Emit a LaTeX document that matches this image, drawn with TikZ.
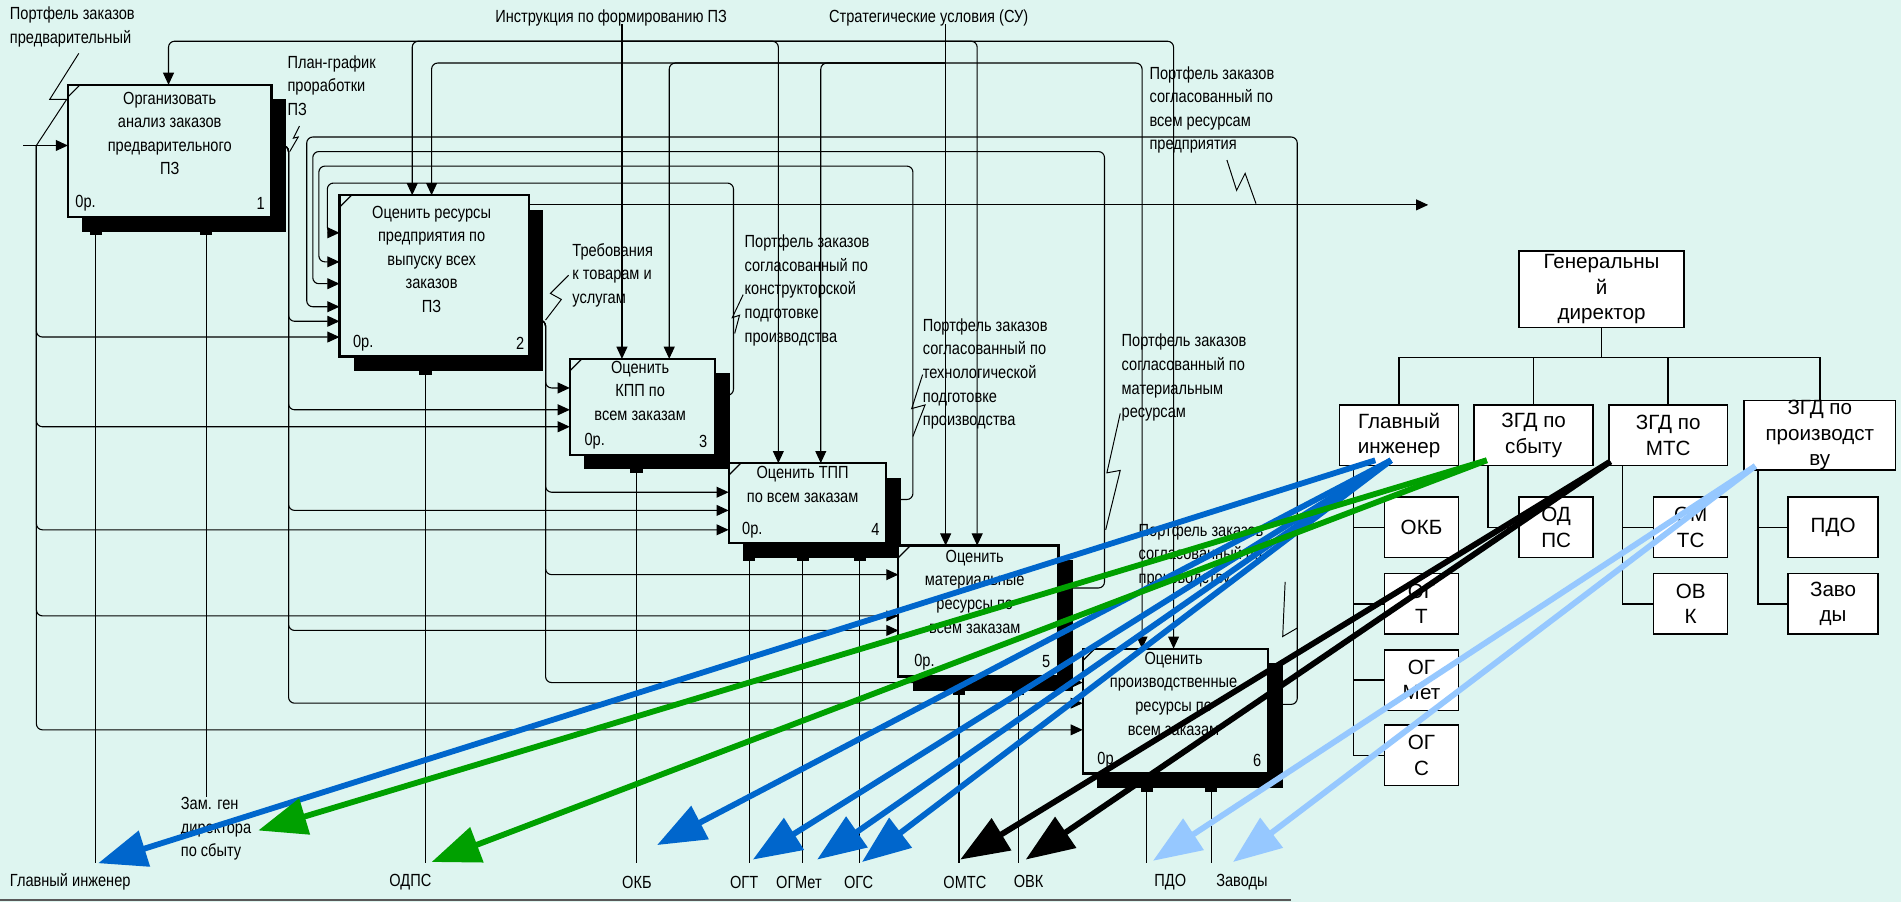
\documentclass[tikz,border=0pt]{standalone}
\usepackage{fontspec}
\setmainfont{Liberation Sans}
\newfontfamily\narrowfont[FakeStretch=0.83]{Liberation Sans}
\usetikzlibrary{arrows.meta,calc,shadows}
\pgfdeclarelayer{back}
\pgfdeclarelayer{bg}
\pgfsetlayers{back,bg,main}
\definecolor{bgc}{RGB}{222,245,240}
\definecolor{cblue}{RGB}{0,102,204}
\definecolor{cgreen}{RGB}{0,160,0}
\definecolor{clight}{RGB}{150,200,255}
\begin{document}
\begin{tikzpicture}[x=1pt,y=-1pt,
 conn/.style={draw=black,line width=0.9pt,rounded corners=5pt},
 carr/.style={conn,-{Triangle[length=10pt,width=9pt]}},
 idbox/.style={draw=black,line width=1.8pt,fill=bgc,inner sep=0pt,outer sep=0pt,
   drop shadow={shadow xshift=12pt,shadow yshift=-12pt,opacity=1,fill=black}},
 ctick/.style={draw=black,line width=1pt},
 idf/.style={font=\narrowfont\fontsize{14.5}{19.5}\selectfont,inner sep=0pt,text=black},
 lbl/.style={idf,align=left,anchor=north west,execute at begin node=\strut},
 btxt/.style={idf,align=center,anchor=north,execute at begin node=\strut},
 sq/.style={draw=black,line width=0.8pt},
 org/.style={draw=black,line width=1.3pt,fill=white,inner sep=0pt,align=center,font=\fontsize{17}{21}\selectfont},
 orgl/.style={draw=black,line width=1.3pt},
 big/.style={line width=4.8pt,-{Triangle[length=40pt,width=30pt]}}
]
\begin{pgfonlayer}{back}
\fill[bgc] (0,0) rectangle (1568,744);
\end{pgfonlayer}
\useasboundingbox (0,0) rectangle (1568,744);

% ---------- IDEF0 boxes ----------
\node[idbox,minimum width=168pt,minimum height=109pt] (b1) at (140,124.5) {};
\node[idbox,minimum width=156pt,minimum height=133pt] (b2) at (358,227.5) {};
\node[idbox,minimum width=120pt,minimum height=79pt] (b3) at (530,335.5) {};
\node[idbox,minimum width=130pt,minimum height=66pt] (b4) at (666,415) {};
\node[idbox,minimum width=132pt,minimum height=108pt] (b5) at (807,504) {};
\node[idbox,minimum width=153pt,minimum height=103pt] (b6) at (969.5,586.5) {};
\foreach \b in {b1,b2,b3,b4,b5,b6}
  \draw[ctick] ($(\b.north west)+(0,10)$) -- ($(\b.north west)+(10,0)$);

% mechanism tabs
\foreach \bx/\dx in {b1/23,b1/114,b2/71,b3/55,b4/17,b4/61,b4/108,b5/50,b5/99,b6/53,b6/106}
  \fill[black] ($(\bx.south west)+(\dx-5,11)$) rectangle ($(\bx.south west)+(\dx+5,15)$);

% ---------- texts ----------
\node[btxt] (t1) at (140,75.5) {Организовать\\анализ заказов\\предварительного\\ПЗ};
\node[btxt] (t2) at (356,169.5) {Оценить ресурсы\\предприятия по\\выпуску всех\\заказов\\ПЗ};
\node[btxt] (t3) at (528,297.5) {Оценить\\КПП по\\всем заказам};
\node[btxt] (t4) at (662,384.5) {Оценить ТПП\\по всем заказам};
\node[btxt] (t5) at (804,453.5) {Оценить\\материальные\\ресурсы по\\всем заказам};
\node[btxt] (t6) at (968,537.5) {Оценить\\производственные\\ресурсы по\\всем заказам};
\node[idf,anchor=west] (c1) at (62,168) {0р.};
\node[idf] (n1) at (215,168) {1};
\node[idf,anchor=west] (c2) at (291,283) {0р.};
\node[idf] (n2) at (429,283) {2};
\node[idf,anchor=west] (c3) at (482,364) {0р.};
\node[idf] (n3) at (580,364) {3};
\node[idf,anchor=west] (c4) at (612,437) {0р.};
\node[idf] (n4) at (722,437) {4};
\node[idf,anchor=west] (c5) at (754,546) {0р.};
\node[idf] (n5) at (863,546) {5};
\node[idf,anchor=west] (c6) at (905,627) {0р};
\node[idf] (n6) at (1037,627) {6};

\node[lbl] (lPred) at (8,5.5) {Портфель заказов\\предварительный};
\node[idf] (lInstr) at (504,15) {Инструкция по формированию ПЗ};
\node[idf] (lSU) at (766,15) {Стратегические условия (СУ)};
\node[lbl] (lPlan) at (237,45.5) {План-график\\проработки\\ПЗ};
\node[lbl] (lAll) at (948,54.5) {Портфель заказов\\согласованный по\\всем ресурсам\\предприятия};
\node[lbl] (lTreb) at (472,200.5) {Требования\\к товарам и\\услугам};
\node[lbl] (lKon) at (614,193.5) {Портфель заказов\\согласованный по\\конструкторской\\подготовке\\производства};
\node[lbl] (lTeh) at (761,262.5) {Портфель заказов\\согласованный по\\технологической\\подготовке\\производства};
\node[lbl] (lMat) at (925,275.5) {Портфель заказов\\согласованный по\\материальным\\ресурсам};
\node[lbl] (lPro) at (939,431.5) {Портфель заказов\\согласованный по\\производству};
\node[lbl] (lZam) at (149,657.5) {Зам. ген\\директора\\по сбыту};

\node[idf,anchor=west] (bGI) at (8,727.5) {Главный инженер};
\node[idf,anchor=west] (bODPS) at (321,727.5) {ОДПС};
\node[idf,anchor=west] (bOKB) at (513,727.5) {ОКБ};
\node[idf,anchor=west] (bOGT) at (602,727.5) {ОГТ};
\node[idf,anchor=west] (bOGM) at (640,727.5) {ОГМет};
\node[idf,anchor=west] (bOGS) at (696,727.5) {ОГС};
\node[idf,anchor=west] (bOMTS) at (778,727.5) {ОМТС};
\node[idf,anchor=west] (bOVK) at (836,727) {ОВК};
\node[idf,anchor=west] (bPDO) at (952,727.5) {ПДО};
\node[idf,anchor=west] (bZav) at (1003,727.5) {Заводы};

% ---------- IDEF0 connectors (under the boxes) ----------
\coordinate (srcI) at (513,20);
\coordinate (srcS) at (780,20);
\coordinate (jI) at (513,34);
\coordinate (jS) at (780,52);
\coordinate (inL) at (19,120);
\coordinate (jIn) at (30,120);
\coordinate (outR) at (1178,169);
\coordinate (bot) at (0,712);
\begin{pgfonlayer}{bg}
% controls
\draw[carr] (srcI) -- ($(b3.north west)+(43,0)$);
\draw[carr] (srcS) -- ($(b5.north west)+(39,0)$);
\draw[carr] (jI) -| ($(b1.north west)+(83,0)$);
\draw[carr] (jI) -| ($(b2.north west)+(60,0)$);
\draw[carr] (jI) -| ($(b4.north west)+(41,0)$);
\draw[carr] (jI) -| ($(b5.north west)+(65,0)$);
\draw[carr] (jI) -| ($(b6.north west)+(75,0)$);
\draw[carr] (jS) -| ($(b2.north west)+(76,0)$);
\draw[carr] (jS) -| ($(b3.north west)+(82,0)$);
\draw[carr] (jS) -| ($(b4.north west)+(76,0)$);
\draw[carr] (jS) -| ($(b6.north west)+(49,0)$);
% output of box 2 to the right
\draw[carr] ($(b2.north east)+(0,8)$) -- (outR);
% feedback outputs to box 2
\draw[carr] ($(b3.north east)+(0,30)$) -| (605,151) -| (270,192) -- ($(b2.north west)+(0,31)$);
\draw[carr] ($(b4.north east)+(0,30)$) -| (753,137) -| (263,216) -- ($(b2.north west)+(0,55)$);
\draw[carr] ($(b5.north east)+(0,35)$) -| (911,125) -| (258,234) -- ($(b2.north west)+(0,73)$);
\draw[carr] ($(b6.north east)+(0,46)$) -| (1070,113) -| (253,253) -- ($(b2.north west)+(0,92)$);
% output of box 1 (plan)
\draw[carr] ($(b1.north east)+(0,50)$) -| (238,265) -- ($(b2.north west)+(0,104)$);
\draw[carr] ($(b1.north east)+(0,50)$) -| (238,338) -- ($(b3.north west)+(0,42)$);
\draw[carr] ($(b1.north east)+(0,50)$) -| (238,421) -- ($(b4.north west)+(0,39)$);
\draw[carr] ($(b1.north east)+(0,50)$) -| (238,520) -- ($(b5.north west)+(0,70)$);
\draw[carr] ($(b1.north east)+(0,50)$) -| (238,580) -- ($(b6.north west)+(0,45)$);
% main input
\draw[carr] (inL) -- ($(b1.north west)+(0,50)$);
\draw[carr] (jIn) |- ($(b2.north west)+(0,117)$);
\draw[carr] (jIn) |- ($(b3.north west)+(0,56)$);
\draw[carr] (jIn) |- ($(b4.north west)+(0,55)$);
\draw[carr] (jIn) |- ($(b5.north west)+(0,58)$);
\draw[carr] (jIn) |- ($(b6.north west)+(0,67)$);
% output of box 2 (requirements)
\draw[carr] ($(b2.north east)+(0,103)$) -| (450,320) -- ($(b3.north west)+(0,24)$);
\draw[carr] ($(b2.north east)+(0,103)$) -| (450,406) -- ($(b4.north west)+(0,24)$);
\draw[carr] ($(b2.north east)+(0,103)$) -| (450,474) -- ($(b5.north west)+(0,24)$);
\draw[carr] ($(b2.north east)+(0,103)$) -| (450,563) -- ($(b6.north west)+(0,28)$);
% mechanisms
\foreach \bx/\dx in {b1/23,b2/71,b3/55,b4/17,b4/61,b4/108,b5/50,b5/99,b6/53,b6/106}
  \draw[conn] ($(\bx.south west)+(\dx,0)$) coordinate (m) -- (m |- bot);
\draw[conn] ($(b1.south west)+(114,0)$) coordinate (mz) -- (mz |- lZam.north);
\end{pgfonlayer}

% label pointers
\draw[sq] (65,44) -- (41,82) -- (55,82) -- (30,120);
\draw[sq] (247,104) -- (242,114) -- (246,113) -- (239,125);
\draw[sq] (469,227) -- (454,242) -- (463,247) -- (450,264);
\draw[sq] (613,243) -- (604,262) -- (610,260) -- (606,275);
\draw[sq] (761,309) -- (752,337) -- (763,334) -- (753,360);
\draw[sq] (924,341) -- (913,390) -- (924,388) -- (912,437);
\draw[sq] (1012,132) -- (1020,157) -- (1027,143) -- (1036,168);
\draw[sq] (1060,480) -- (1058,525) -- (1070,518);

\draw[black!65,line width=1.5pt] (0,742) -- (1065,742);

% ---------- organisation chart ----------
\node[org,minimum width=136pt,minimum height=63pt] (gd) at (1321,238.5) {Генеральны\\й\\директор};
\node[org,minimum width=98pt,minimum height=50pt] (gi) at (1154,359) {Главный\\инженер};
\node[org,minimum width=98pt,minimum height=50pt] (zs) at (1265,359) {ЗГД по\\сбыту};
\node[org,minimum width=98pt,minimum height=50pt] (zm) at (1376,359) {ЗГД по\\МТС};
\node[org,minimum width=125pt,minimum height=50pt] (zp) at (1501,359) {ЗГД по\\производст\\ву};
\node[org,minimum width=61pt,minimum height=50pt] (okb) at (1172.5,435) {ОКБ};
\node[org,minimum width=61pt,minimum height=50pt] (ogt) at (1172.5,498) {ОГ\\Т};
\node[org,minimum width=61pt,minimum height=50pt] (ogm) at (1172.5,561) {ОГ\\Мет};
\node[org,minimum width=61pt,minimum height=50pt] (ogs) at (1172.5,623) {ОГ\\С};
\node[org,minimum width=61pt,minimum height=50pt] (odps) at (1283.5,435) {ОД\\ПС};
\node[org,minimum width=61pt,minimum height=50pt] (omts) at (1394.5,435) {ОМ\\ТС};
\node[org,minimum width=61pt,minimum height=50pt] (ovk) at (1394.5,498) {ОВ\\К};
\node[org,minimum width=74pt,minimum height=50pt] (pdo) at (1512,435) {ПДО};
\node[org,minimum width=74pt,minimum height=50pt] (zav) at (1512,498) {Заво\\ды};
\coordinate (bus) at (1321,295);
\draw[orgl] (gd.south) -- (bus);
\foreach \n in {gi,zs,zm,zp} \draw[orgl] (\n.north) |- (bus);
\foreach \n in {okb,ogt,ogm,ogs} \draw[orgl] ($(gi.south west)+(12,0)$) |- (\n.west);
\draw[orgl] ($(zs.south west)+(12,0)$) |- (odps.west);
\foreach \n in {omts,ovk} \draw[orgl] ($(zm.south west)+(12,0)$) |- (\n.west);
\foreach \n in {pdo,zav} \draw[orgl] ($(zp.south west)+(12,0)$) |- (\n.west);

% ---------- coloured responsibility arrows ----------
\coordinate (sGI1) at ($(gi.south west)+(30,-5)$);
\coordinate (sGI2) at ($(gi.south west)+(43,-5)$);
\coordinate (sZS) at ($(zs.south west)+(11,-5)$);
\coordinate (sZM) at ($(zm.south west)+(2,-4)$);
\coordinate (sZP) at ($(zp.south west)+(10,-4)$);
\coordinate (tGI) at (81,712);
\coordinate (tZam) at (213,685);
\coordinate (tODPS) at (356,711);
\coordinate (tOKB) at (542,697);
\coordinate (tOGT) at (621,709);
\coordinate (tOGM) at (674,709);
\coordinate (tOGS) at (711,711);
\coordinate (tOMTS) at (792,709);
\coordinate (tOVK) at (846,709);
\coordinate (tPDO) at (951,710);
\coordinate (tZav) at (1017,711);
\draw[big,cblue] (sGI1) -- (tGI);
\draw[big,cblue] (sGI2) -- (tOKB);
\draw[big,cblue] (sGI2) -- (tOGT);
\draw[big,cblue] (sGI2) -- (tOGM);
\draw[big,cblue] (sGI2) -- (tOGS);
\draw[big,cgreen] (sZS) -- (tZam);
\draw[big,cgreen] (sZS) -- (tODPS);
\draw[big,black] (sZM) -- (tOMTS);
\draw[big,black] (sZM) -- (tOVK);
\draw[big,clight] (sZP) -- (tPDO);
\draw[big,clight] (sZP) -- (tZav);
\end{tikzpicture}
\end{document}
